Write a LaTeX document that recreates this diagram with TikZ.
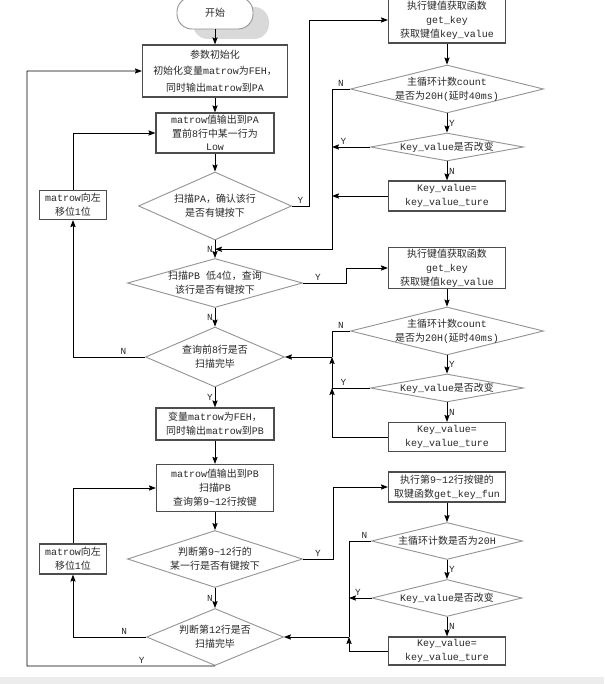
\documentclass[tikz,border=0pt]{standalone}
\usepackage{fontspec}
\setmainfont{Noto Sans CJK SC}
\newfontfamily\latfont{Liberation Mono}
\newcommand\en[1]{{\latfont #1}}
\usepackage{tikz}
\usetikzlibrary{shapes.geometric, arrows.meta, positioning, calc}
\definecolor{boxline}{RGB}{77,77,77}
\definecolor{dialine}{RGB}{150,150,150}
\definecolor{txtgray}{RGB}{40,40,40}
\definecolor{shadowgray}{RGB}{217,217,217}
\definecolor{framegray}{RGB}{236,236,236}
\tikzset{
  procbox/.style={rectangle, draw=boxline, fill=white, line width=1pt,
    align=center, inner xsep=2pt, inner ysep=1pt, text=txtgray,
    font=\fontsize{8.5}{12}\selectfont},
  decision/.style={diamond, draw=dialine, fill=white, line width=0.8pt,
    align=center, inner sep=0pt, inner ysep=-3pt, text=txtgray,
    font=\fontsize{8.5}{12}\selectfont},
  startbox/.style={rectangle, rounded corners=0.45cm, draw=dialine, fill=white,
    line width=0.8pt, minimum width=2.28cm, minimum height=0.96cm,
    text=txtgray, font=\fontsize{8.5}{12}\selectfont},
  startshade/.style={rectangle, rounded corners=0.45cm, fill=shadowgray,
    minimum width=2.28cm, minimum height=0.96cm},
  arrow/.style={-{Stealth[length=6pt, width=4.5pt, inset=1pt]}, line width=0.7pt},
  line/.style={line width=0.7pt},
  lbl/.style={font=\latfont\fontsize{8}{9}\selectfont, inner sep=1.5pt, text=txtgray}
}

\begin{document}
\begin{tikzpicture}[x=0.03cm, y=-0.03cm]
  \useasboundingbox (0,0) rectangle (604,684);
  \fill[framegray] (0,677) rectangle (604,684);

  % main column
  \node[startshade] (shade) at (231,23) {};
  \node[startbox] (start) at (215,13) {开始};
  \node[procbox, minimum width=4.35cm, minimum height=1.56cm, font=\fontsize{8.5}{14}\selectfont] (init) at (215,71)
    {参数初始化\\初始化变量\en{matrow}为\en{FEH}，\\同时输出\en{matrow}到\en{PA}};
  \node[procbox, minimum width=3.54cm, minimum height=1.2cm, font=\fontsize{8.5}{11.5}\selectfont] (outPA) at (215,133)
    {\en{matrow}值输出到\en{PA}\\置前\en{8}行中某一行为\\\en{Low}};
  \node[decision, minimum width=4.59cm, minimum height=2.04cm, aspect=2.25] (scanPA) at (215,206)
    {扫描\en{PA}，确认该行\\是否有键按下};
  \node[procbox, minimum width=2.01cm, minimum height=0.87cm] (shiftA) at (73,205)
    {\en{matrow}向左\\移位\en{1}位};
  \node[decision, minimum width=5.25cm, minimum height=1.47cm, aspect=3.6] (scanPB) at (215,283)
    {扫描\en{PB }低\en{4}位，查询\\该行是否有键按下};
  \node[decision, minimum width=4.17cm, minimum height=1.8cm, aspect=2.3] (done8) at (215,357)
    {查询前\en{8}行是否\\扫描完毕};
  \node[procbox, minimum width=3.54cm, minimum height=0.96cm] (setPB) at (215,424)
    {变量\en{matrow}为\en{FEH}，\\同时输出\en{matrow}到\en{PB}};
  \node[procbox, minimum width=3.51cm, minimum height=1.41cm] (outPB) at (215,488)
    {\en{matrow}值输出到\en{PB}\\扫描\en{PB}\\查询第\en{9\textasciitilde12}行按键};
  \node[procbox, minimum width=2.01cm, minimum height=0.9cm] (shiftB) at (73,559)
    {\en{matrow}向左\\移位\en{1}位};
  \node[decision, minimum width=5.25cm, minimum height=1.71cm, aspect=3.1] (scan912) at (215,559)
    {判断第\en{9\textasciitilde12}行的\\某一行是否有键按下};
  \node[decision, minimum width=4.11cm, minimum height=1.71cm, aspect=2.4] (done12) at (215,637)
    {判断第\en{12}行是否\\扫描完毕};

  % right column
  \node[procbox, minimum width=3.51cm, minimum height=1.38cm] (keyA) at (447,20)
    {执行键值获取函数\\\en{get\_key}\\获取键值\en{key\_value}};
  \node[decision, minimum width=5.79cm, minimum height=1.44cm, aspect=4] (cntA) at (447,89)
    {主循环计数\en{count}\\是否为\en{20H(}延时\en{40ms)}};
  \node[decision, minimum width=4.59cm, minimum height=0.84cm, aspect=5.5] (chgA) at (447,147)
    {\en{Key\_value}是否改变};
  \node[procbox, minimum width=3.51cm, minimum height=0.9cm] (updA) at (447,196)
    {\en{Key\_value=}\\\en{key\_value\_ture}};

  \node[procbox, minimum width=3.51cm, minimum height=1.17cm] (keyB) at (447,268)
    {执行键值获取函数\\\en{get\_key}\\获取键值\en{key\_value}};
  \node[decision, minimum width=5.79cm, minimum height=1.44cm, aspect=4] (cntB) at (447,331)
    {主循环计数\en{count}\\是否为\en{20H(}延时\en{40ms)}};
  \node[decision, minimum width=4.59cm, minimum height=0.84cm, aspect=5.5] (chgB) at (447,388)
    {\en{Key\_value}是否改变};
  \node[procbox, minimum width=3.51cm, minimum height=0.87cm] (updB) at (447,437)
    {\en{Key\_value=}\\\en{key\_value\_ture}};

  \node[procbox, minimum width=3.51cm, minimum height=0.9cm] (keyC) at (447,487)
    {执行第\en{9\textasciitilde12}行按键的\\取键函数\en{get\_key\_fun}};
  \node[decision, minimum width=4.53cm, minimum height=1.11cm, aspect=4.1] (cntC) at (447,541)
    {主循环计数是否为\en{20H}};
  \node[decision, minimum width=4.5cm, minimum height=1.11cm, aspect=4] (chgC) at (447,598)
    {\en{Key\_value}是否改变};
  \node[procbox, minimum width=3.51cm, minimum height=0.84cm] (updC) at (447,651)
    {\en{Key\_value=}\\\en{key\_value\_ture}};

  \coordinate (rA) at ($(cntA.west)+(-18,0)$);
  \coordinate (rB) at ($(cntB.west)+(-18,0)$);
  \coordinate (rC) at ($(cntC.west)+(-22,0)$);
  \coordinate (jA) at ($(scanPA.south)!0.5!(scanPB.north)$);
  \coordinate (back) at (27,666);

  % main flow
  \draw[arrow] (start) -- (init);
  \draw[arrow] (init) -- (outPA);
  \draw[arrow] (outPA) -- (scanPA);
  \draw[arrow] (scanPA) -- node[lbl, left] {N} (scanPB);
  \draw[arrow] (scanPB) -- node[lbl, left] {N} (done8);
  \draw[arrow] (done8) -- node[lbl, left] {Y} (setPB);
  \draw[arrow] (setPB) -- (outPB);
  \draw[arrow] (outPB) -- (scan912);
  \draw[arrow] (scan912) -- node[lbl, left] {N} (done12);
  \draw[arrow] (done8.west) -- node[lbl, above, pos=0.3] {N} (done8.west -| shiftA) -- (shiftA.south);
  \draw[arrow] (shiftA.north) |- (outPA.west);
  \draw[arrow] (done12.west) -- node[lbl, above, pos=0.3] {N} (done12.west -| shiftB) -- (shiftB.south);
  \draw[arrow] (shiftB.north) |- (outPB.west);
  \draw[arrow] (done12.south) -- node[lbl, above, pos=0.39] {Y} (back) |- (init.west);

  % first key loop
  \draw[arrow] (scanPA.east) -- node[lbl, above, pos=0.5] {Y} ++(17,0) |- (keyA.west);
  \draw[arrow] (keyA) -- (cntA);
  \draw[arrow] (cntA) -- node[lbl, right] {Y} (chgA);
  \draw[arrow] (chgA) -- node[lbl, right] {N} (updA);
  \draw[arrow] (cntA.west) -- node[lbl, above] {N} (rA) |- (jA);
  \draw[arrow] (chgA.west) -- node[lbl, above, pos=0.7] {Y} (chgA.west -| rA);
  \draw[arrow] (updA.west) -- (updA.west -| rA);

  % second key loop
  \draw[arrow] (scanPB.east) -- node[lbl, above, pos=0.35] {Y} ++(43,0) |- (keyB.west);
  \draw[arrow] (keyB) -- (cntB);
  \draw[arrow] (cntB) -- node[lbl, right] {Y} (chgB);
  \draw[arrow] (chgB) -- node[lbl, right] {N} (updB);
  \draw[line] (cntB.west) -- node[lbl, above] {N} (rB) -- (done8.east -| rB);
  \draw[arrow] (done8.east -| rB) -- (done8.east);
  \draw[arrow] (chgB.west) -- node[lbl, above, pos=0.7] {Y} (chgB.west -| rB) -- (done8.east -| rB);
  \draw[arrow] (updB.west) -| (chgB.west -| rB);

  % third key loop
  \draw[arrow] (scan912.east) -- node[lbl, above, pos=0.5] {Y} ++(30,0) |- (keyC.west);
  \draw[arrow] (keyC) -- (cntC);
  \draw[arrow] (cntC) -- node[lbl, right] {Y} (chgC);
  \draw[arrow] (chgC) -- node[lbl, right] {N} (updC);
  \draw[line] (cntC.west) -- node[lbl, above, pos=0.3] {N} (rC) -- (done12.east -| rC);
  \draw[arrow] (done12.east -| rC) -- (done12.east);
  \draw[arrow] (chgC.west) -- node[lbl, above, pos=0.6] {Y} (chgC.west -| rC);
  \draw[arrow] (updC.west) -| (done12.east -| rC);
\end{tikzpicture}
\end{document}
